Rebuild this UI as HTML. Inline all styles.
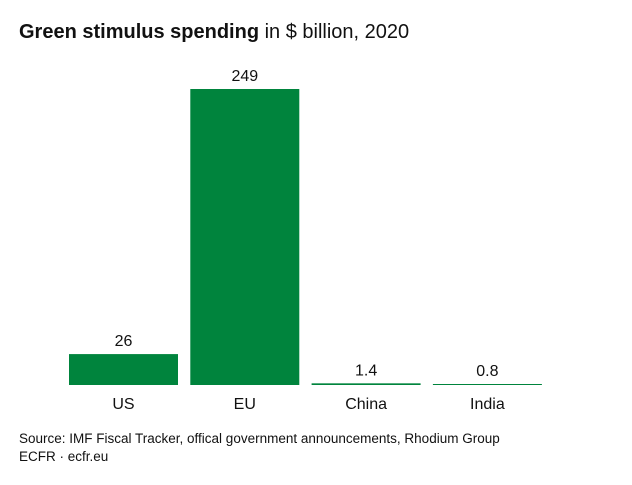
<!DOCTYPE html>
<html><head><meta charset="utf-8"><style>
body{margin:0;background:#fff;font-family:"Liberation Sans",sans-serif;}
</style></head><body>
<svg width="632" height="480" xmlns="http://www.w3.org/2000/svg">
<rect width="632" height="480" fill="#fff"/>
<text x="19" y="38" font-size="20" fill="#111"><tspan font-weight="bold">Green stimulus spending</tspan> in $ billion, 2020</text>
<g id="bars"></g>
<text x="19" y="443" font-size="13.5" fill="#111">Source: IMF Fiscal Tracker, offical government announcements, Rhodium Group</text>
<text x="19" y="461" font-size="13.5" fill="#111">ECFR · ecfr.eu</text>
</svg>
<script>
const categories=["US","EU","China","India"];
const values=[26,249,1.4,0.8];
const labels=["26","249","1.4","0.8"];
const base=385, scale=296/249, x0=69, step=121.3, bw=109;
const g=document.getElementById('bars');
const ns="http://www.w3.org/2000/svg";
categories.forEach((c,i)=>{
  const h=Math.max(values[i]*scale,1);
  const x=x0+i*step;
  const r=document.createElementNS(ns,'rect');
  r.setAttribute('x',x);r.setAttribute('y',base-h);r.setAttribute('width',bw);r.setAttribute('height',h);r.setAttribute('fill','#00843d');
  
  
  g.appendChild(r);
  const v=document.createElementNS(ns,'text');
  v.setAttribute('x',x+bw/2);v.setAttribute('y',base-h-8);v.setAttribute('text-anchor','middle');v.setAttribute('font-size','16');v.setAttribute('fill','#111');
  v.textContent=labels[i];
  
  
  g.appendChild(v);
  const t=document.createElementNS(ns,'text');
  t.setAttribute('x',x+bw/2);t.setAttribute('y',409);t.setAttribute('text-anchor','middle');t.setAttribute('font-size','16');t.setAttribute('fill','#111');
  t.textContent=c;
  
  
  g.appendChild(t);
});
</script>
</body></html>
